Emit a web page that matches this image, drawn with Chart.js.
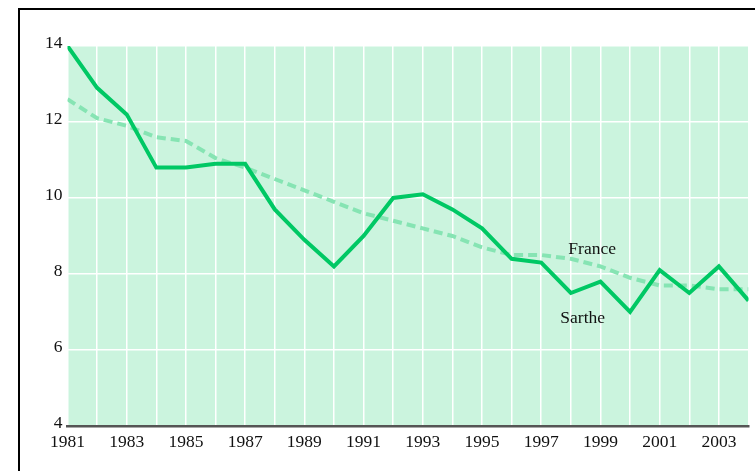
<!DOCTYPE html>
<html>
<head>
<meta charset="utf-8">
<script src="https://cdn.jsdelivr.net/npm/chart.js@4/dist/chart.umd.min.js"></script>
<style>
  html, body { margin: 0; padding: 0; background: #fff; }
  #wrap { position: relative; width: 755px; height: 471px; overflow: hidden; }
  #frame { position: absolute; left: 18px; top: 8px; width: 800px; height: 500px;
           border-left: 2px solid #000; border-top: 2px solid #000; }
  canvas { position: absolute; left: 0; top: 0; }
</style>
</head>
<body>
<div id="wrap">
  <div id="frame"></div>
  <canvas id="chart" width="755" height="471"></canvas>
</div>
<script>
var years = [1981, 1982, 1983, 1984, 1985, 1986, 1987, 1988, 1989, 1990, 1991, 1992,
             1993, 1994, 1995, 1996, 1997, 1998, 1999, 2000, 2001, 2002, 2003, 2004];
var sarthe = [14.0, 12.9, 12.2, 10.8, 10.8, 10.9, 10.9, 9.7, 8.9, 8.2, 9.0, 10.0,
              10.1, 9.7, 9.2, 8.4, 8.3, 7.5, 7.8, 7.0, 8.1, 7.5, 8.2, 7.3];
var france = [12.6, 12.1, 11.9, 11.6, 11.5, 11.05, 10.8, 10.5, 10.2, 9.9, 9.6, 9.4,
              9.2, 9.0, 8.7, 8.5, 8.5, 8.4, 8.2, 7.9, 7.7, 7.7, 7.6, 7.6];
var yTicks = [4, 6, 8, 10, 12, 14];
// series name labels, placed in data coordinates
var seriesLabels = [
  { text: 'France', x: 1998.72, y: 8.65 },
  { text: 'Sarthe', x: 1998.4, y: 6.82 }
];

var font = 'Liberation Serif, Times New Roman, serif';

function toPoints(vals) {
  return years.map(function (yr, i) { return { x: yr, y: vals[i] }; });
}

// green plot background
var bgPlugin = {
  id: 'bg',
  beforeDraw: function (chart) {
    var a = chart.chartArea;
    var ctx = chart.ctx;
    ctx.save();
    ctx.fillStyle = '#cbf4de';
    ctx.fillRect(a.left, a.top, a.right - a.left, a.bottom - a.top);
    ctx.restore();
  }
};

// text labels next to the lines
var labelPlugin = {
  id: 'seriesText',
  afterDatasetsDraw: function (chart) {
    var ctx = chart.ctx;
    var xs = chart.scales.x, ys = chart.scales.y;
    ctx.save();
    ctx.font = '17.5px ' + font;
    ctx.fillStyle = '#111';
    ctx.textAlign = 'center';
    ctx.textBaseline = 'middle';
    seriesLabels.forEach(function (l) {
      ctx.fillText(l.text, xs.getPixelForValue(l.x), ys.getPixelForValue(l.y));
    });
    ctx.restore();
  }
};

var ctx = document.getElementById('chart').getContext('2d');
new Chart(ctx, {
  type: 'line',
  data: {
    datasets: [{
      label: 'Sarthe',
      data: toPoints(sarthe),
      borderColor: '#00c864',
      borderWidth: 4,
      pointRadius: 0,
      tension: 0,
      order: 0
    }, {
      label: 'France',
      data: toPoints(france),
      borderColor: '#86e4b3',
      borderWidth: 4,
      borderDash: [9, 5],
      pointRadius: 0,
      tension: 0,
      order: 1
    }]
  },
  options: {
    responsive: false,
    animation: false,
    layout: { padding: { left: 0, top: 46, right: 6.5, bottom: 0 } },
    plugins: { legend: { display: false }, tooltip: { enabled: false } },
    scales: {
      x: {
        type: 'linear',
        min: 1981,
        max: 2004,
        afterFit: function (s) { s.height = 45; },
        afterBuildTicks: function (s) {
          s.ticks = years.map(function (y) { return { value: y }; });
        },
        ticks: {
          autoSkip: false,
          maxRotation: 0,
          padding: 6,
          color: '#111',
          font: { family: font, size: 17.5 },
          callback: function (v) { return (v - 1981) % 2 === 0 ? String(v) : ''; }
        },
        grid: { color: '#ffffff', lineWidth: 1.5, drawTicks: false },
        border: { display: true, color: '#555555', width: 2.5 }
      },
      y: {
        min: 4,
        max: 14,
        afterFit: function (s) { s.width = 67.5; },
        afterBuildTicks: function (s) {
          s.ticks = yTicks.map(function (v) { return { value: v }; });
        },
        ticks: {
          padding: 5,
          labelOffset: -3,
          color: '#111',
          font: { family: font, size: 17.5 }
        },
        grid: { color: '#ffffff', lineWidth: 1.5, drawTicks: false },
        border: { display: false }
      }
    }
  },
  plugins: [bgPlugin, labelPlugin]
});
</script>
</body>
</html>
